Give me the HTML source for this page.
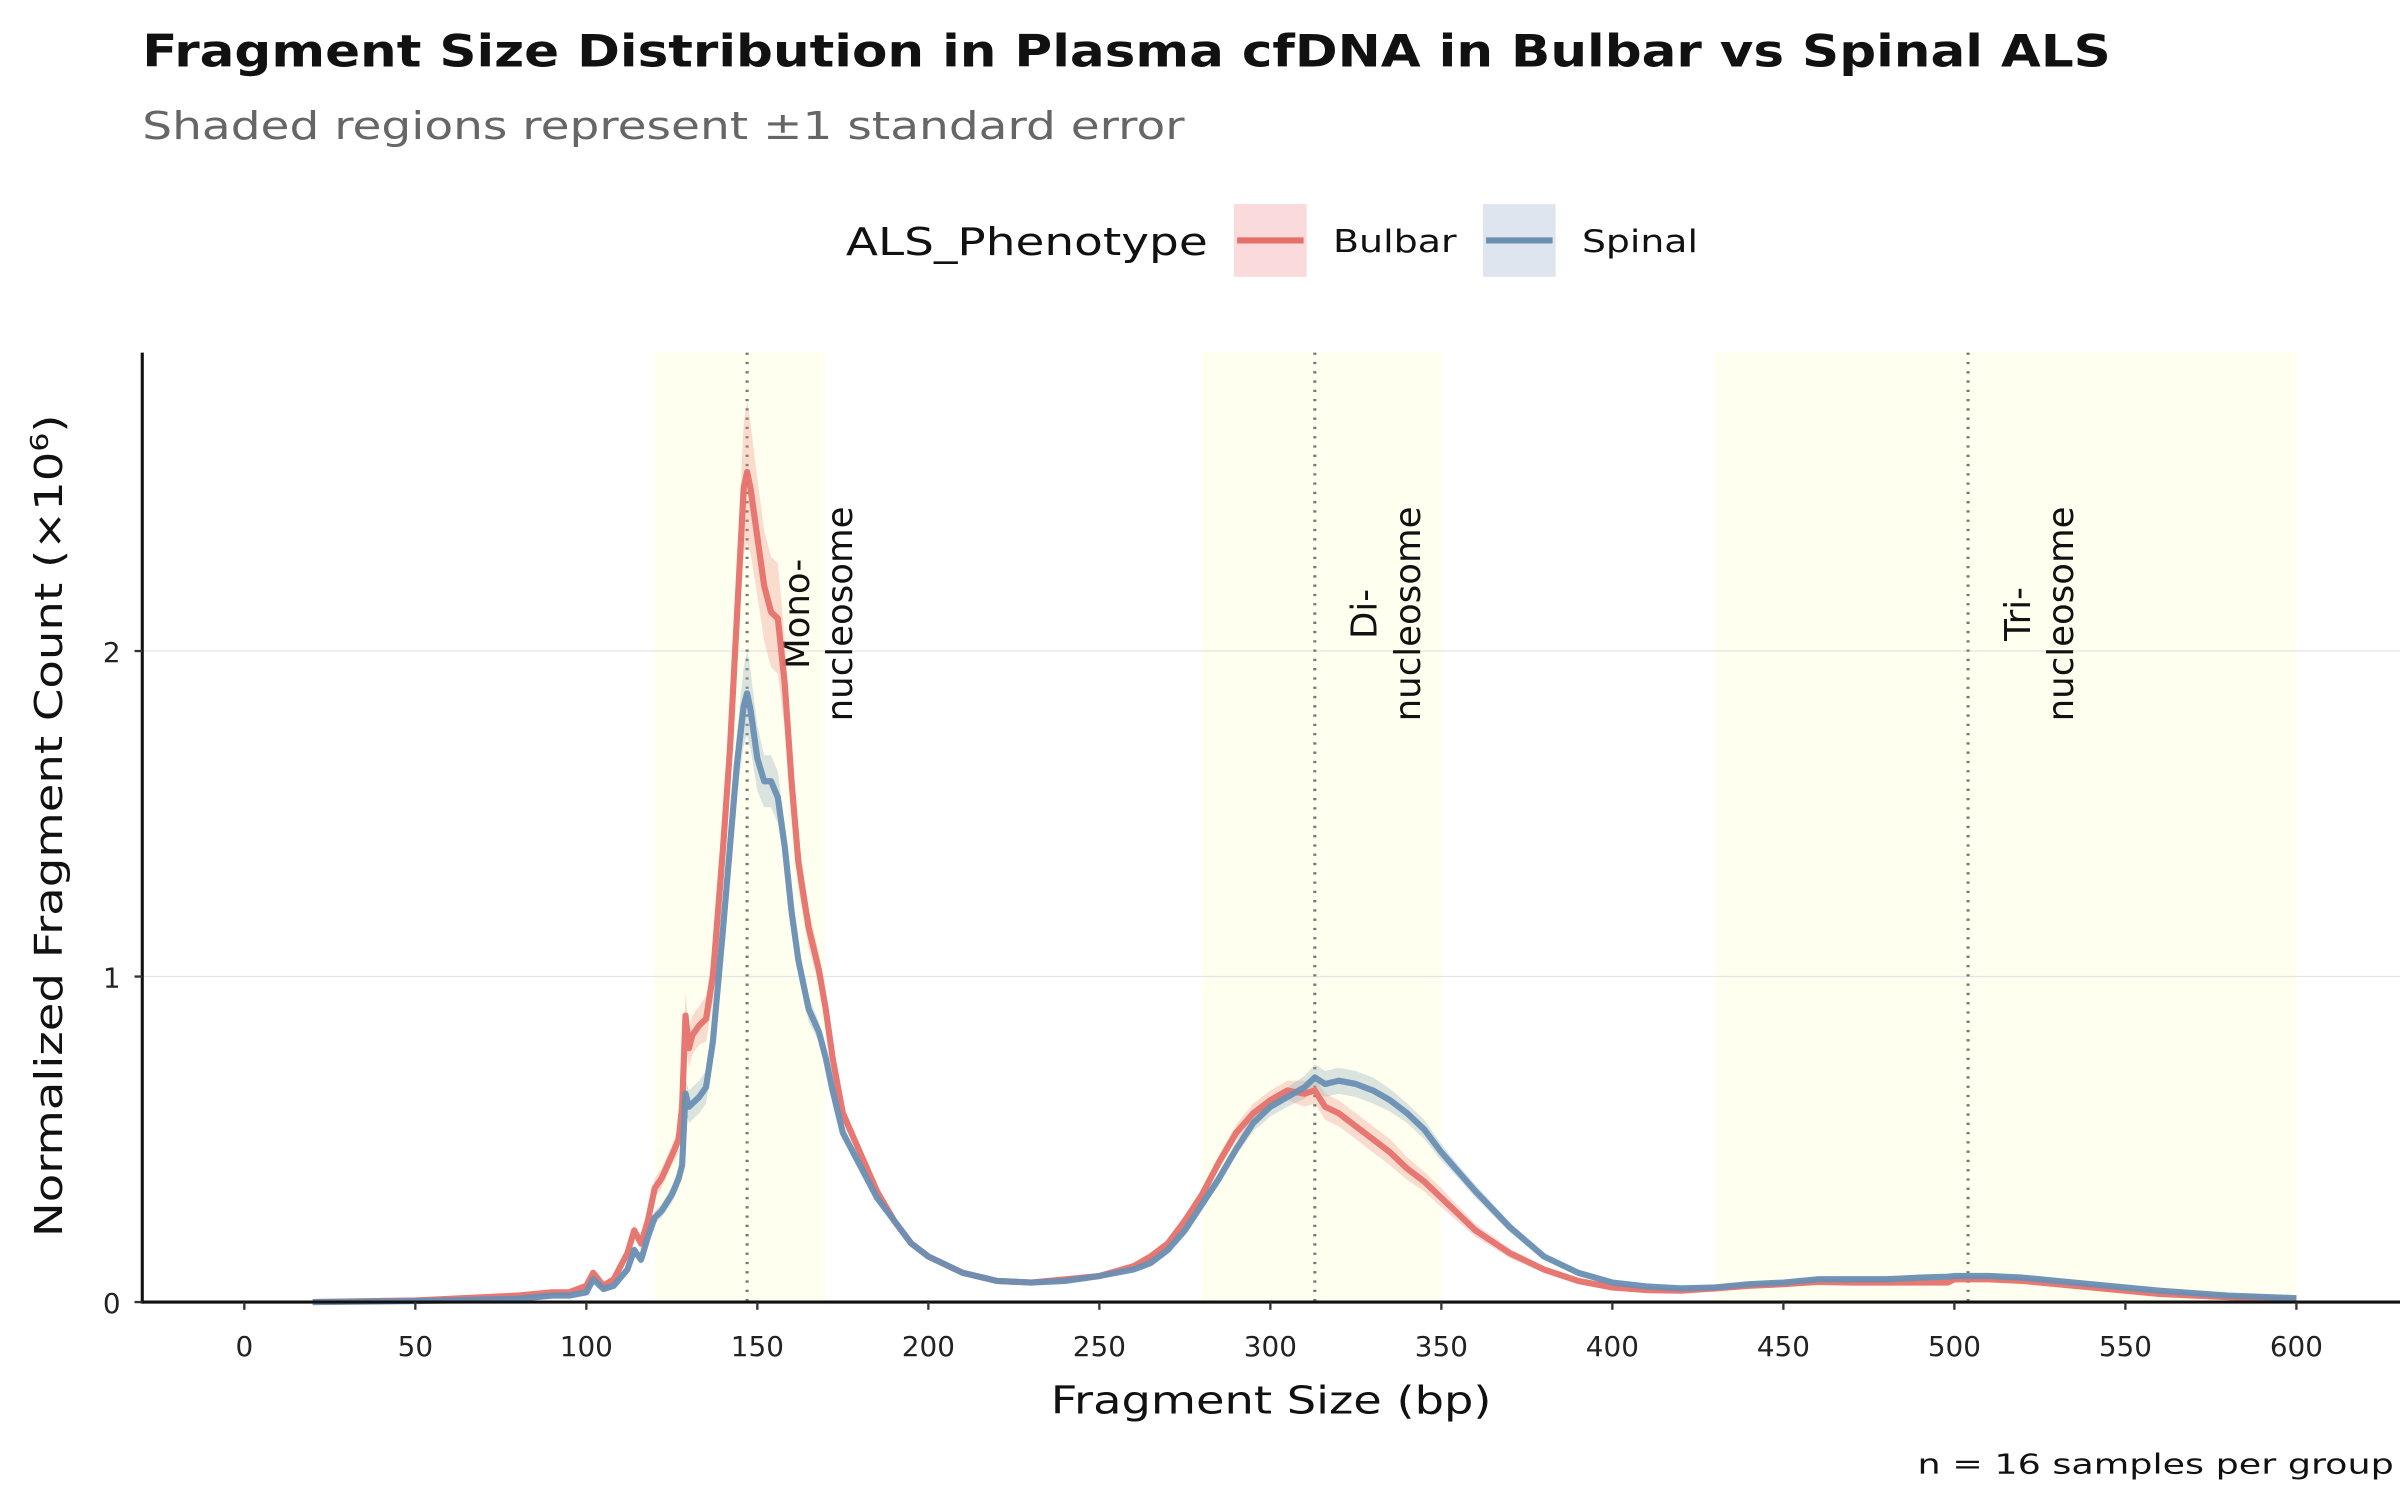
<!DOCTYPE html>
<html><head><meta charset="utf-8">
<style>
html,body{margin:0;padding:0;background:#fff;}
svg{display:block;font-family:"DejaVu Sans","Liberation Sans",sans-serif;}
</style></head>
<body>
<svg id="chart" width="2400" height="1500" viewBox="0 0 1552 970" xmlns="http://www.w3.org/2000/svg">
<text x="92" y="43" font-size="29" font-weight="bold" fill="#111" textLength="1273" lengthAdjust="spacingAndGlyphs">Fragment Size Distribution in Plasma cfDNA in Bulbar vs Spinal ALS</text>
<text x="92" y="90" font-size="25" fill="#666" textLength="674" lengthAdjust="spacingAndGlyphs">Shaded regions represent ±1 standard error</text>
<g>
<text x="547" y="165" font-size="25" fill="#111" textLength="234" lengthAdjust="spacingAndGlyphs">ALS_Phenotype</text>
<g>
<rect x="798" y="132" width="47" height="47" fill="rgba(240,150,150,0.35)"/>
<line x1="800" y1="155.5" x2="843" y2="155.5" stroke="#E6716B" stroke-width="4"/>
<text x="862" y="163" font-size="20" fill="#111" textLength="80" lengthAdjust="spacingAndGlyphs">Bulbar</text>
</g>
<g>
<rect x="959" y="132" width="47" height="47" fill="rgba(160,180,210,0.35)"/>
<line x1="961" y1="155.5" x2="1004" y2="155.5" stroke="#6A8FB3" stroke-width="4"/>
<text x="1023" y="163" font-size="20" fill="#111" textLength="75" lengthAdjust="spacingAndGlyphs">Spinal</text>
</g>
</g>
<g id="plot"></g>
<text x="822" y="914" font-size="25" text-anchor="middle" fill="#111" textLength="285" lengthAdjust="spacingAndGlyphs">Fragment Size (bp)</text>
<text transform="translate(40,534) rotate(-90)" font-size="25" text-anchor="middle" fill="#111" textLength="532" lengthAdjust="spacingAndGlyphs">Normalized Fragment Count (×10<tspan dy="-9" font-size="16">6</tspan><tspan dy="9">)</tspan></text>
<text x="1548" y="953" font-size="18" text-anchor="end" fill="#111" textLength="308" lengthAdjust="spacingAndGlyphs">n = 16 samples per group</text>
</svg>
<script>
const xs = [20,50,60,70,80,90,95,100,102,105,108,112,114,116,118,120,122,125,127,128,129,130,131,133,135,137,140,142,144,146,147,148,150,152,154,156,158,160,162,165,168,170,172,175,180,185,190,195,200,210,220,230,240,250,260,265,270,275,280,285,290,295,300,305,310,313,316,320,325,330,335,340,345,350,355,360,370,380,390,400,410,420,430,440,450,460,470,480,490,498,500,510,520,530,540,550,560,580,600];
const bulbar = [0,0.005,0.01,0.015,0.02,0.03,0.03,0.05,0.09,0.05,0.07,0.15,0.22,0.18,0.25,0.35,0.38,0.45,0.5,0.6,0.88,0.78,0.82,0.85,0.87,1.0,1.4,1.7,2.1,2.5,2.55,2.5,2.35,2.2,2.12,2.1,1.9,1.6,1.35,1.15,1.02,0.9,0.75,0.58,0.46,0.34,0.25,0.18,0.14,0.09,0.065,0.06,0.07,0.08,0.11,0.14,0.18,0.25,0.33,0.43,0.52,0.58,0.62,0.65,0.64,0.65,0.6,0.58,0.54,0.5,0.46,0.41,0.37,0.32,0.27,0.22,0.15,0.1,0.065,0.045,0.037,0.035,0.042,0.05,0.055,0.062,0.06,0.06,0.06,0.06,0.07,0.07,0.065,0.055,0.045,0.035,0.025,0.015,0.008];
const spinal = [0,0.003,0.005,0.008,0.01,0.02,0.02,0.03,0.07,0.04,0.05,0.1,0.16,0.13,0.2,0.26,0.28,0.33,0.38,0.42,0.64,0.6,0.61,0.63,0.66,0.8,1.15,1.4,1.65,1.83,1.87,1.82,1.67,1.6,1.6,1.55,1.4,1.2,1.05,0.9,0.83,0.75,0.65,0.52,0.42,0.32,0.25,0.18,0.14,0.09,0.065,0.06,0.065,0.08,0.1,0.12,0.16,0.22,0.3,0.38,0.47,0.55,0.6,0.63,0.66,0.69,0.67,0.68,0.67,0.65,0.62,0.58,0.53,0.46,0.4,0.34,0.23,0.14,0.09,0.06,0.048,0.042,0.045,0.055,0.06,0.07,0.07,0.07,0.075,0.078,0.08,0.08,0.075,0.065,0.055,0.045,0.035,0.02,0.012];
const bulbarSE = [0,0,0,0,0,0,0,0.01,0.01,0.01,0.01,0.02,0.02,0.02,0.02,0.03,0.03,0.03,0.04,0.05,0.07,0.06,0.06,0.06,0.07,0.08,0.1,0.12,0.15,0.2,0.22,0.2,0.18,0.17,0.17,0.17,0.14,0.1,0.08,0.06,0.05,0.04,0.03,0.03,0.02,0.02,0.01,0.01,0.01,0.01,0.005,0.005,0.005,0.005,0.01,0.01,0.01,0.015,0.02,0.02,0.025,0.03,0.03,0.03,0.04,0.04,0.04,0.04,0.04,0.04,0.04,0.035,0.03,0.03,0.025,0.02,0.015,0.01,0.008,0.005,0.004,0.004,0.004,0.004,0.004,0.004,0.004,0.004,0.004,0.004,0.004,0.004,0.004,0.003,0.003,0.003,0.002,0.002,0.002];
const spinalSE = [0,0,0,0,0,0,0,0.005,0.01,0.005,0.005,0.01,0.015,0.015,0.02,0.02,0.02,0.025,0.03,0.03,0.05,0.05,0.05,0.05,0.05,0.06,0.07,0.08,0.1,0.12,0.13,0.12,0.1,0.08,0.08,0.08,0.06,0.05,0.04,0.04,0.03,0.03,0.03,0.02,0.02,0.015,0.01,0.01,0.01,0.005,0.005,0.005,0.005,0.005,0.008,0.01,0.01,0.015,0.015,0.02,0.02,0.025,0.03,0.03,0.035,0.04,0.04,0.04,0.04,0.04,0.035,0.03,0.03,0.025,0.02,0.02,0.015,0.01,0.008,0.005,0.004,0.004,0.004,0.004,0.004,0.004,0.004,0.004,0.004,0.004,0.004,0.004,0.004,0.003,0.003,0.003,0.002,0.002,0.002];
const xTicks = [0,50,100,150,200,250,300,350,400,450,500,550,600];
const yTicks = [0,1,2];
const regions = [[120,170,"mono"],[280,350,"di"],[430,600,"tri"]];
const peaks = [147,313,504];
const peakLabels = [["Mono-","nucleosome"],["Di-","nucleosome"],["Tri-","nucleosome"]];

const X0=92, X1=1552, Y0=842, YT=228;
const sx = v => 158 + v*(1485-158)/600;
const sy = v => 842 - v*210.5;
const NS="http://www.w3.org/2000/svg";
const plot=document.getElementById('plot');
function mk(tag,attrs,parent){const e=document.createElementNS(NS,tag);for(const k in attrs)e.setAttribute(k,attrs[k]);(parent||plot).appendChild(e);return e;}

regions.forEach(r=>{
  const e=mk('rect',{x:sx(r[0]),y:YT,width:sx(r[1])-sx(r[0]),height:Y0-YT,fill:'#FFFFF0'});
  
  
});
yTicks.forEach(t=>{ if(t>0){
  const g=mk('line',{x1:X0,x2:X1,y1:sy(t),y2:sy(t),stroke:'#e4e4e4','stroke-width':0.8});
  
  
}});
peaks.forEach((p,i)=>{
  const l=mk('line',{x1:sx(p),x2:sx(p),y1:YT,y2:Y0,stroke:'#777','stroke-width':2,'stroke-dasharray':'1.5 4.5'});
  
  
  const t=mk('text',{transform:`translate(${sx(p)},397) rotate(-90)`,'font-size':23,fill:'#111','text-anchor':'middle'});
  
  
  const a=mk('tspan',{x:0,y:40},t); a.textContent=peakLabels[i][0];
  const b=mk('tspan',{x:0,y:68},t); b.textContent=peakLabels[i][1];
});
function band(vals,se,fill,name){
  let d='M'+xs.map((x,i)=>sx(x)+','+sy(vals[i]+se[i])).join('L');
  for(let i=xs.length-1;i>=0;i--) d+='L'+sx(xs[i])+','+sy(Math.max(0,vals[i]-se[i]));
  const e=mk('path',{d:d+'Z',fill:fill});
  
  
}
function line(vals,stroke,name){
  const e=mk('path',{d:'M'+xs.map((x,i)=>sx(x)+','+sy(vals[i])).join('L'),fill:'none',stroke:stroke,'stroke-width':4,'stroke-linejoin':'round','stroke-opacity':0.95});
  
  
}
band(bulbar,bulbarSE,'rgba(240,140,130,0.3)','bulbar-se-band');
band(spinal,spinalSE,'rgba(150,175,185,0.35)','spinal-se-band');
line(bulbar,'#E6716B','bulbar-line');
line(spinal,'#6A8FB3','spinal-line');

const ya=mk('line',{x1:X0,x2:X0,y1:YT,y2:Y0+1,stroke:'#111','stroke-width':2});


const xa=mk('line',{x1:X0,x2:X1,y1:Y0,y2:Y0,stroke:'#111','stroke-width':2});


xTicks.forEach(t=>{
  const k=mk('line',{x1:sx(t),x2:sx(t),y1:Y0,y2:Y0+5,stroke:'#333','stroke-width':1.5});
  
  
  const l=mk('text',{x:sx(t),y:Y0+35,'font-size':18,'text-anchor':'middle',fill:'#222'});
  
  
  l.textContent=t;
});
yTicks.forEach(t=>{
  const k=mk('line',{x1:X0-5,x2:X0,y1:sy(t),y2:sy(t),stroke:'#333','stroke-width':1.5});
  
  
  const l=mk('text',{x:X0-14,y:sy(t)+7,'font-size':18,'text-anchor':'end',fill:'#222'});
  
  
  l.textContent=t;
});
</script>
</body></html>
